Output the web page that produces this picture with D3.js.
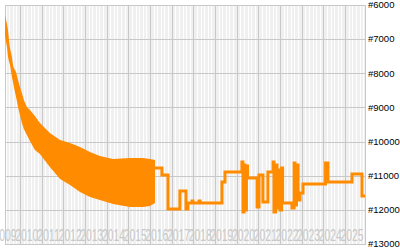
<!DOCTYPE html>
<html>
<head>
<meta charset="utf-8">
<script src="https://cdn.jsdelivr.net/npm/d3@7"></script>
<style>
  html, body { margin: 0; padding: 0; background: #fff; }
  svg { display: block; }
</style>
</head>
<body>
<svg id="canvas" width="400" height="250"></svg>
<script>
// Year labels along the bottom
var YEAR_LABELS = ['2009', '2010', '2011', '2012', '2013', '2014', '2015', '2016', '2017',
  '2018', '2019', '2020', '2021', '2022', '2023', '2024', '2025'];

// Rank ticks on the right (axis is inverted, best rank on top)
var RANK_TICKS = [6000, 7000, 8000, 9000, 10000, 11000, 12000, 13000];

// Early period: the rank swings fast, read as upper / lower envelope
var bandYears = [2009.31, 2009.40, 2009.45, 2009.49, 2009.54, 2009.63, 2009.68, 2009.72, 2009.82,
  2009.91, 2010.00, 2010.09, 2010.18, 2010.32, 2010.46, 2010.69, 2010.92, 2011.38, 2011.85,
  2012.31, 2012.77, 2013.23, 2013.69, 2014.29, 2015.08, 2015.68, 2016.00, 2016.23];
var bandTop = [6293, 6557, 6732, 6996, 7259, 7523, 7757, 7845, 7962,
  8197, 8402, 8578, 8783, 8988, 9075, 9251, 9456, 9749, 9954,
  10042, 10159, 10306, 10423, 10511, 10481, 10481, 10510, 10540];
var bandBottom = [6908, 7230, 7523, 7640, 7757, 8109, 8255, 8402, 8695,
  8988, 9222, 9456, 9632, 9808, 9983, 10247, 10364, 10745, 11096,
  11272, 11477, 11624, 11712, 11829, 11917, 11917, 11887, 11800];

// Later period: stepped rank
var stepYears = [2016.23, 2016.55, 2016.83, 2017.38, 2017.66, 2017.75, 2017.94, 2017.98, 2018.26,
  2018.31, 2019.32, 2019.46, 2020.24, 2020.29, 2020.34, 2020.38, 2020.45, 2020.50, 2020.94,
  2021.03, 2021.21, 2021.44, 2021.68, 2021.72, 2021.79, 2021.86, 2021.93, 2022.00, 2022.07,
  2022.12, 2022.55, 2022.65, 2022.69, 2022.76, 2022.83, 2022.92, 2023.06, 2024.10, 2024.21,
  2025.32, 2025.78, 2025.92];
var stepRanks = [10774, 10979, 11975, 11448, 11975, 11800, 11741, 11800, 11741,
  11800, 11184, 10891, 10599, 12063, 10687, 12005, 10716, 11067, 11917,
  10979, 11770, 10891, 10599, 12063, 10687, 11946, 10833, 12005, 10774,
  11800, 11946, 10628, 11858, 10687, 11712, 11507, 11243, 10628, 11184,
  10950, 11595, 11595];

var margin = { top: 5, left: 5, right: 35 };
var width = 400, height = 250;

var svg = d3.select('#canvas');

var x = d3.scaleLinear()
  .domain([2009.31, 2025.92])
  .range([margin.left, width - margin.right]);

var y = d3.scaleLinear()
  .domain([RANK_TICKS[0], RANK_TICKS[RANK_TICKS.length - 1]])
  .range([margin.top, 244]);

var plotBottom = y(13000) + 1;

// Plot background
svg.append('rect')
  .attr('x', x.range()[0])
  .attr('y', margin.top)
  .attr('width', x.range()[1] - x.range()[0])
  .attr('height', plotBottom - margin.top)
  .attr('fill', '#f0f0f0');

// Minor stripes (every other month)
var minor = d3.range(2009, 2026.0001, 1 / 6).filter(function (d) {
  return d > x.domain()[0] && d < x.domain()[1] && Math.abs(d - Math.round(d)) > 0.01;
});
svg.append('g')
  .selectAll('line')
  .data(minor)
  .enter()
  .append('line')
  .attr('x1', function (d) { return Math.round(x(d)) + 0.5; })
  .attr('x2', function (d) { return Math.round(x(d)) + 0.5; })
  .attr('y1', margin.top)
  .attr('y2', plotBottom)
  .attr('stroke', '#ffffff')
  .attr('stroke-width', 1);

// Major year lines
var yearLines = d3.range(2010, 2026);
svg.append('g')
  .selectAll('line')
  .data(yearLines)
  .enter()
  .append('line')
  .attr('x1', function (d) { return Math.round(x(d)) + 0.5; })
  .attr('x2', function (d) { return Math.round(x(d)) + 0.5; })
  .attr('y1', margin.top)
  .attr('y2', plotBottom)
  .attr('stroke', '#c8c8c8');

// Horizontal rank lines
svg.append('g')
  .selectAll('line')
  .data(RANK_TICKS)
  .enter()
  .append('line')
  .attr('x1', x.range()[0])
  .attr('x2', x.range()[1])
  .attr('y1', function (d) { return Math.round(y(d)) + 0.5; })
  .attr('y2', function (d) { return Math.round(y(d)) + 0.5; })
  .attr('stroke', '#c8c8c8');

// Frame
svg.append('rect')
  .attr('x', x.range()[0] + 0.5)
  .attr('y', margin.top + 0.5)
  .attr('width', x.range()[1] - x.range()[0])
  .attr('height', plotBottom - margin.top - 1)
  .attr('fill', 'none')
  .attr('stroke', '#c8c8c8');

// Year labels, drawn inside the plot
svg.append('g')
  .selectAll('text')
  .data(YEAR_LABELS)
  .enter()
  .append('text')
  .attr('x', function (d) { return x(+d + 0.5) - 4; })
  .attr('y', 241)
  .attr('text-anchor', 'middle')
  .attr('textLength', 23)
  .attr('lengthAdjust', 'spacingAndGlyphs')
  .style('font-family', 'Liberation Sans, Arial, sans-serif')
  .style('font-size', '16px')
  .attr('fill', '#c8c8c8')
  .text(function (d) { return d; });

// Fast-swinging early period
var band = bandYears.map(function (d, i) { return [d, bandTop[i], bandBottom[i]]; });
svg.append('path')
  .datum(band)
  .attr('fill', '#ff8c00')
  .attr('d', d3.area()
    .x(function (d) { return x(d[0]); })
    .y0(function (d) { return y(d[1]); })
    .y1(function (d) { return y(d[2]); }));

// Stepped later period
var steps = stepYears.map(function (d, i) { return [d, stepRanks[i]]; });
svg.append('path')
  .datum(steps)
  .attr('fill', 'none')
  .attr('stroke', '#ff8c00')
  .attr('stroke-width', 3)
  .attr('d', d3.line()
    .curve(d3.curveStepAfter)
    .x(function (d) { return x(d[0]); })
    .y(function (d) { return y(d[1]); }));

// Rank labels on the right
svg.append('g')
  .selectAll('text')
  .data(RANK_TICKS)
  .enter()
  .append('text')
  .attr('x', 368)
  .attr('y', function (d) { return y(d); })
  .attr('dy', '0.35em')
  .style('font-family', 'Liberation Sans, Arial, sans-serif')
  .style('font-size', '9.5px')
  .attr('fill', '#000')
  .text(function (d) { return '#' + d; });
</script>
</body>
</html>
